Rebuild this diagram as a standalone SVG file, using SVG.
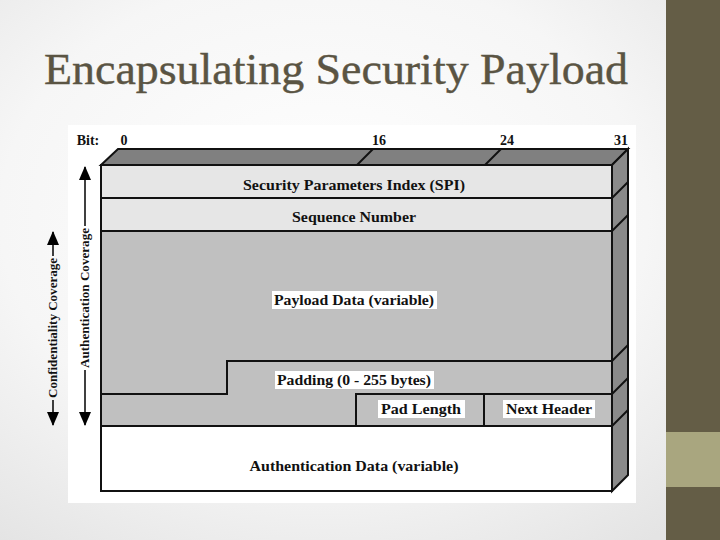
<svg xmlns="http://www.w3.org/2000/svg" width="720" height="540" viewBox="0 0 720 540">
<defs>
<radialGradient id="bg" cx="0.45" cy="0.4" r="0.75">
<stop offset="0" stop-color="#ffffff"/>
<stop offset="0.6" stop-color="#f6f6f6"/>
<stop offset="1" stop-color="#e4e4e4"/>
</radialGradient>
<marker id="ah" markerWidth="14" markerHeight="14" viewBox="0 0 14 14" refX="13" refY="7" orient="auto" markerUnits="userSpaceOnUse">
<path d="M0,1 L14,7 L0,13 Z" fill="#000"/>
</marker>
<style>
.t{font-family:"Liberation Serif","Times New Roman",serif;font-weight:bold;font-size:14px;fill:#111;text-anchor:middle}
.b{stroke:#111;stroke-width:2}
.lb{fill:#fff}
</style>
</defs>
<rect width="720" height="540" fill="url(#bg)"/>
<rect x="666" y="0" width="54" height="540" fill="#645d46"/>
<rect x="666" y="432" width="54" height="55" fill="#a9a67f"/>
<text x="44" y="84" font-family="'Liberation Serif','Times New Roman',serif" font-size="44" fill="#5a5443" stroke="#5a5443" stroke-width="0.4" textLength="584" lengthAdjust="spacingAndGlyphs">Encapsulating Security Payload</text>
<rect x="68" y="125" width="568" height="378" fill="#fff"/>
<g id="header">
<text class="t" x="88" y="145">Bit:</text>
<text class="t" x="124" y="145">0</text>
<text class="t" x="379" y="145">16</text>
<text class="t" x="507" y="145">24</text>
<text class="t" x="621" y="145">31</text>
<polygon points="101,165 118,149 628,149 612,165" fill="#808080" class="b"/>
<line x1="357" y1="165" x2="373" y2="149" class="b"/>
<line x1="485" y1="165" x2="501" y2="149" class="b"/>
</g>
<g id="side">
<polygon points="612,165 628,149 628,475 612,491" fill="#8a8a8a" class="b"/>
<g class="b">
<line x1="612" y1="198" x2="628" y2="182"/>
<line x1="612" y1="231" x2="628" y2="215"/>
<line x1="612" y1="361" x2="628" y2="345"/>
<line x1="612" y1="394" x2="628" y2="378"/>
<line x1="612" y1="426" x2="628" y2="410"/>
</g>
</g>
<g id="spi">
<rect x="101" y="165" width="511" height="33" fill="#e6e6e6" class="b"/>
<text class="t" x="354" y="190" textLength="222" lengthAdjust="spacingAndGlyphs">Security Parameters Index (SPI)</text>
</g>
<g id="seq">
<rect x="101" y="198" width="511" height="33" fill="#e6e6e6" class="b"/>
<text class="t" x="354" y="222" textLength="124" lengthAdjust="spacingAndGlyphs">Sequence Number</text>
</g>
<g id="payload">
<rect x="101" y="231" width="511" height="195" fill="#c0c0c0" class="b"/>
<rect x="272" y="291" width="165" height="18" class="lb"/>
<text class="t" x="354" y="305" textLength="160" lengthAdjust="spacingAndGlyphs">Payload Data (variable)</text>
</g>
<g id="padding">
<polyline points="101,394 227,394 227,361 612,361" fill="none" class="b"/>
<rect x="275" y="371" width="159" height="18" class="lb"/>
<text class="t" x="354" y="385" textLength="154" lengthAdjust="spacingAndGlyphs">Padding (0 - 255 bytes)</text>
</g>
<g id="padlength">
<polyline points="356,426 356,394 612,394" fill="none" class="b"/>
<rect x="378" y="400" width="87" height="18" class="lb"/>
<text class="t" x="421" y="414" textLength="80" lengthAdjust="spacingAndGlyphs">Pad Length</text>
</g>
<g id="nextheader">
<line x1="484" y1="394" x2="484" y2="426" class="b"/>
<rect x="503" y="400" width="92" height="18" class="lb"/>
<text class="t" x="549" y="414" textLength="86" lengthAdjust="spacingAndGlyphs">Next Header</text>
</g>
<g id="authdata">
<rect x="101" y="426" width="511" height="65" fill="#ffffff" class="b"/>
<text class="t" x="354" y="471" textLength="209" lengthAdjust="spacingAndGlyphs">Authentication Data (variable)</text>
</g>
<g id="connectors" stroke="#000" stroke-width="1.5" fill="none">
<line x1="85" y1="226" x2="85" y2="167" marker-end="url(#ah)"/>
<line x1="85" y1="370" x2="85" y2="425" marker-end="url(#ah)"/>
<line x1="53" y1="256" x2="53" y2="232" marker-end="url(#ah)"/>
<line x1="53" y1="400" x2="53" y2="425" marker-end="url(#ah)"/>
</g>
<text class="t" transform="translate(89,298) rotate(-90)" style="font-size:12px" textLength="140" lengthAdjust="spacingAndGlyphs">Authentication Coverage</text>
<text class="t" transform="translate(57,328) rotate(-90)" style="font-size:12px" textLength="140" lengthAdjust="spacingAndGlyphs">Confidentiality Coverage</text>
</svg>
